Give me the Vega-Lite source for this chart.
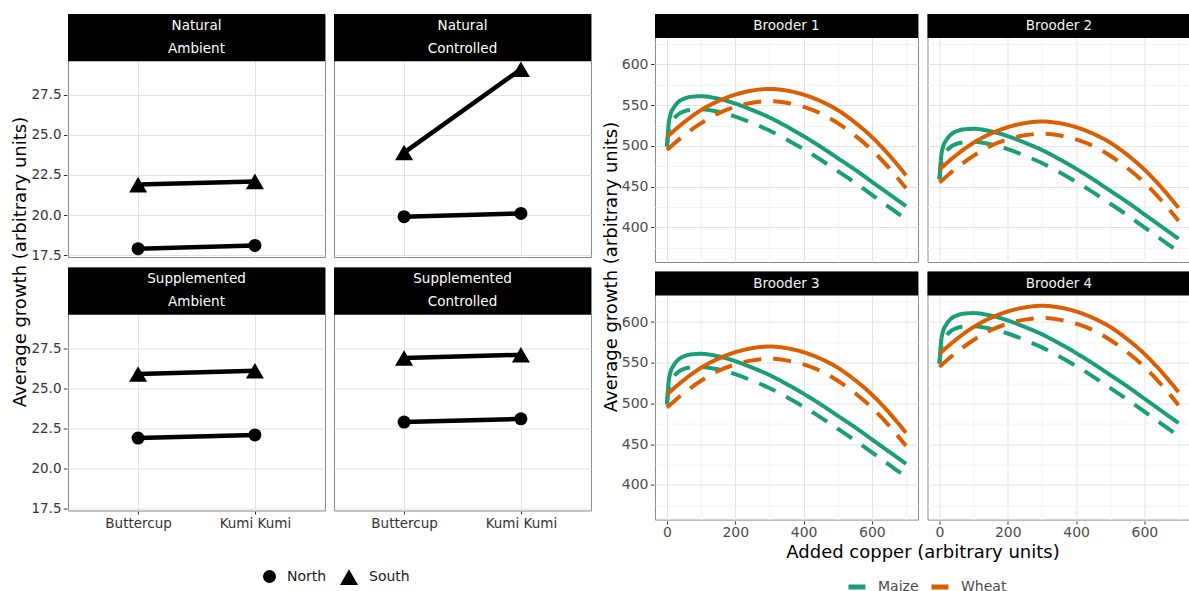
{
 "$schema": "https://vega.github.io/schema/vega-lite/v6.json",
 "padding": {"left": 11, "top": 13, "right": 0, "bottom": 0},
 "config": {
  "font": "DejaVu Sans",
  "view": {"stroke": "#8a8a8a", "strokeWidth": 1},
  "axis": {"domain": false, "tickColor": "#333333", "tickSize": 3.5, "labelPadding": 2.5, "labelFont": "DejaVu Sans", "gridWidth": 1},
  "header": {"titleFont": "DejaVu Sans", "titleFontWeight": "normal", "titleColor": "black", "titleFontSize": 18},
  "legend": {"padding": 0}
 },
 "datasets": {
  "growth": [
   {"nutrition": "Natural", "temperature": "Ambient", "variety": "Buttercup", "location": "North", "growth": 17.9},
   {"nutrition": "Natural", "temperature": "Ambient", "variety": "Kumi Kumi", "location": "North", "growth": 18.1},
   {"nutrition": "Natural", "temperature": "Ambient", "variety": "Buttercup", "location": "South", "growth": 21.9},
   {"nutrition": "Natural", "temperature": "Ambient", "variety": "Kumi Kumi", "location": "South", "growth": 22.1},
   {"nutrition": "Natural", "temperature": "Controlled", "variety": "Buttercup", "location": "North", "growth": 19.9},
   {"nutrition": "Natural", "temperature": "Controlled", "variety": "Kumi Kumi", "location": "North", "growth": 20.1},
   {"nutrition": "Natural", "temperature": "Controlled", "variety": "Buttercup", "location": "South", "growth": 23.9},
   {"nutrition": "Natural", "temperature": "Controlled", "variety": "Kumi Kumi", "location": "South", "growth": 29.1},
   {"nutrition": "Supplemented", "temperature": "Ambient", "variety": "Buttercup", "location": "North", "growth": 21.9},
   {"nutrition": "Supplemented", "temperature": "Ambient", "variety": "Kumi Kumi", "location": "North", "growth": 22.1},
   {"nutrition": "Supplemented", "temperature": "Ambient", "variety": "Buttercup", "location": "South", "growth": 25.9},
   {"nutrition": "Supplemented", "temperature": "Ambient", "variety": "Kumi Kumi", "location": "South", "growth": 26.1},
   {"nutrition": "Supplemented", "temperature": "Controlled", "variety": "Buttercup", "location": "North", "growth": 22.9},
   {"nutrition": "Supplemented", "temperature": "Controlled", "variety": "Kumi Kumi", "location": "North", "growth": 23.1},
   {"nutrition": "Supplemented", "temperature": "Controlled", "variety": "Buttercup", "location": "South", "growth": 26.9},
   {"nutrition": "Supplemented", "temperature": "Controlled", "variety": "Kumi Kumi", "location": "South", "growth": 27.1}
  ],
  "curves": [
   {"brooder":"Brooder 1","crop":"Maize","diet":"Standard","copper":0,"growth":499},
   {"brooder":"Brooder 1","crop":"Maize","diet":"Standard","copper":5,"growth":527},
   {"brooder":"Brooder 1","crop":"Maize","diet":"Standard","copper":10,"growth":538},
   {"brooder":"Brooder 1","crop":"Maize","diet":"Standard","copper":20,"growth":547},
   {"brooder":"Brooder 1","crop":"Maize","diet":"Standard","copper":35,"growth":554.5},
   {"brooder":"Brooder 1","crop":"Maize","diet":"Standard","copper":50,"growth":558},
   {"brooder":"Brooder 1","crop":"Maize","diet":"Standard","copper":75,"growth":560.5},
   {"brooder":"Brooder 1","crop":"Maize","diet":"Standard","copper":100,"growth":561},
   {"brooder":"Brooder 1","crop":"Maize","diet":"Standard","copper":150,"growth":558},
   {"brooder":"Brooder 1","crop":"Maize","diet":"Standard","copper":200,"growth":552},
   {"brooder":"Brooder 1","crop":"Maize","diet":"Standard","copper":250,"growth":544},
   {"brooder":"Brooder 1","crop":"Maize","diet":"Standard","copper":300,"growth":535},
   {"brooder":"Brooder 1","crop":"Maize","diet":"Standard","copper":350,"growth":524},
   {"brooder":"Brooder 1","crop":"Maize","diet":"Standard","copper":400,"growth":512},
   {"brooder":"Brooder 1","crop":"Maize","diet":"Standard","copper":450,"growth":499},
   {"brooder":"Brooder 1","crop":"Maize","diet":"Standard","copper":500,"growth":485},
   {"brooder":"Brooder 1","crop":"Maize","diet":"Standard","copper":550,"growth":471},
   {"brooder":"Brooder 1","crop":"Maize","diet":"Standard","copper":600,"growth":456},
   {"brooder":"Brooder 1","crop":"Maize","diet":"Standard","copper":650,"growth":441},
   {"brooder":"Brooder 1","crop":"Maize","diet":"Standard","copper":700,"growth":426},
   {"brooder":"Brooder 1","crop":"Maize","diet":"Restricted","copper":0,"growth":499},
   {"brooder":"Brooder 1","crop":"Maize","diet":"Restricted","copper":5,"growth":518},
   {"brooder":"Brooder 1","crop":"Maize","diet":"Restricted","copper":10,"growth":525},
   {"brooder":"Brooder 1","crop":"Maize","diet":"Restricted","copper":20,"growth":533},
   {"brooder":"Brooder 1","crop":"Maize","diet":"Restricted","copper":35,"growth":539.5},
   {"brooder":"Brooder 1","crop":"Maize","diet":"Restricted","copper":50,"growth":542.5},
   {"brooder":"Brooder 1","crop":"Maize","diet":"Restricted","copper":75,"growth":544.5},
   {"brooder":"Brooder 1","crop":"Maize","diet":"Restricted","copper":100,"growth":545},
   {"brooder":"Brooder 1","crop":"Maize","diet":"Restricted","copper":150,"growth":542},
   {"brooder":"Brooder 1","crop":"Maize","diet":"Restricted","copper":200,"growth":536},
   {"brooder":"Brooder 1","crop":"Maize","diet":"Restricted","copper":250,"growth":528},
   {"brooder":"Brooder 1","crop":"Maize","diet":"Restricted","copper":300,"growth":519},
   {"brooder":"Brooder 1","crop":"Maize","diet":"Restricted","copper":350,"growth":508},
   {"brooder":"Brooder 1","crop":"Maize","diet":"Restricted","copper":400,"growth":496},
   {"brooder":"Brooder 1","crop":"Maize","diet":"Restricted","copper":450,"growth":483},
   {"brooder":"Brooder 1","crop":"Maize","diet":"Restricted","copper":500,"growth":469},
   {"brooder":"Brooder 1","crop":"Maize","diet":"Restricted","copper":550,"growth":455},
   {"brooder":"Brooder 1","crop":"Maize","diet":"Restricted","copper":600,"growth":440},
   {"brooder":"Brooder 1","crop":"Maize","diet":"Restricted","copper":650,"growth":425},
   {"brooder":"Brooder 1","crop":"Maize","diet":"Restricted","copper":700,"growth":410},
   {"brooder":"Brooder 1","crop":"Wheat","diet":"Standard","copper":0,"growth":511},
   {"brooder":"Brooder 1","crop":"Wheat","diet":"Standard","copper":50,"growth":529},
   {"brooder":"Brooder 1","crop":"Wheat","diet":"Standard","copper":100,"growth":544},
   {"brooder":"Brooder 1","crop":"Wheat","diet":"Standard","copper":150,"growth":555},
   {"brooder":"Brooder 1","crop":"Wheat","diet":"Standard","copper":200,"growth":563},
   {"brooder":"Brooder 1","crop":"Wheat","diet":"Standard","copper":250,"growth":568},
   {"brooder":"Brooder 1","crop":"Wheat","diet":"Standard","copper":300,"growth":570},
   {"brooder":"Brooder 1","crop":"Wheat","diet":"Standard","copper":350,"growth":568},
   {"brooder":"Brooder 1","crop":"Wheat","diet":"Standard","copper":400,"growth":563},
   {"brooder":"Brooder 1","crop":"Wheat","diet":"Standard","copper":450,"growth":555},
   {"brooder":"Brooder 1","crop":"Wheat","diet":"Standard","copper":500,"growth":544},
   {"brooder":"Brooder 1","crop":"Wheat","diet":"Standard","copper":550,"growth":529},
   {"brooder":"Brooder 1","crop":"Wheat","diet":"Standard","copper":600,"growth":511},
   {"brooder":"Brooder 1","crop":"Wheat","diet":"Standard","copper":650,"growth":489},
   {"brooder":"Brooder 1","crop":"Wheat","diet":"Standard","copper":700,"growth":464},
   {"brooder":"Brooder 1","crop":"Wheat","diet":"Restricted","copper":0,"growth":495},
   {"brooder":"Brooder 1","crop":"Wheat","diet":"Restricted","copper":50,"growth":513},
   {"brooder":"Brooder 1","crop":"Wheat","diet":"Restricted","copper":100,"growth":528},
   {"brooder":"Brooder 1","crop":"Wheat","diet":"Restricted","copper":150,"growth":540},
   {"brooder":"Brooder 1","crop":"Wheat","diet":"Restricted","copper":200,"growth":548},
   {"brooder":"Brooder 1","crop":"Wheat","diet":"Restricted","copper":250,"growth":553},
   {"brooder":"Brooder 1","crop":"Wheat","diet":"Restricted","copper":300,"growth":555},
   {"brooder":"Brooder 1","crop":"Wheat","diet":"Restricted","copper":350,"growth":553},
   {"brooder":"Brooder 1","crop":"Wheat","diet":"Restricted","copper":400,"growth":548},
   {"brooder":"Brooder 1","crop":"Wheat","diet":"Restricted","copper":450,"growth":540},
   {"brooder":"Brooder 1","crop":"Wheat","diet":"Restricted","copper":500,"growth":528},
   {"brooder":"Brooder 1","crop":"Wheat","diet":"Restricted","copper":550,"growth":513},
   {"brooder":"Brooder 1","crop":"Wheat","diet":"Restricted","copper":600,"growth":495},
   {"brooder":"Brooder 1","crop":"Wheat","diet":"Restricted","copper":650,"growth":473},
   {"brooder":"Brooder 1","crop":"Wheat","diet":"Restricted","copper":700,"growth":448},
   {"brooder":"Brooder 2","crop":"Maize","diet":"Standard","copper":0,"growth":459},
   {"brooder":"Brooder 2","crop":"Maize","diet":"Standard","copper":5,"growth":487},
   {"brooder":"Brooder 2","crop":"Maize","diet":"Standard","copper":10,"growth":498},
   {"brooder":"Brooder 2","crop":"Maize","diet":"Standard","copper":20,"growth":507},
   {"brooder":"Brooder 2","crop":"Maize","diet":"Standard","copper":35,"growth":514.5},
   {"brooder":"Brooder 2","crop":"Maize","diet":"Standard","copper":50,"growth":518},
   {"brooder":"Brooder 2","crop":"Maize","diet":"Standard","copper":75,"growth":520.5},
   {"brooder":"Brooder 2","crop":"Maize","diet":"Standard","copper":100,"growth":521},
   {"brooder":"Brooder 2","crop":"Maize","diet":"Standard","copper":150,"growth":518},
   {"brooder":"Brooder 2","crop":"Maize","diet":"Standard","copper":200,"growth":512},
   {"brooder":"Brooder 2","crop":"Maize","diet":"Standard","copper":250,"growth":504},
   {"brooder":"Brooder 2","crop":"Maize","diet":"Standard","copper":300,"growth":495},
   {"brooder":"Brooder 2","crop":"Maize","diet":"Standard","copper":350,"growth":484},
   {"brooder":"Brooder 2","crop":"Maize","diet":"Standard","copper":400,"growth":472},
   {"brooder":"Brooder 2","crop":"Maize","diet":"Standard","copper":450,"growth":459},
   {"brooder":"Brooder 2","crop":"Maize","diet":"Standard","copper":500,"growth":445},
   {"brooder":"Brooder 2","crop":"Maize","diet":"Standard","copper":550,"growth":431},
   {"brooder":"Brooder 2","crop":"Maize","diet":"Standard","copper":600,"growth":416},
   {"brooder":"Brooder 2","crop":"Maize","diet":"Standard","copper":650,"growth":401},
   {"brooder":"Brooder 2","crop":"Maize","diet":"Standard","copper":700,"growth":386},
   {"brooder":"Brooder 2","crop":"Maize","diet":"Restricted","copper":0,"growth":459},
   {"brooder":"Brooder 2","crop":"Maize","diet":"Restricted","copper":5,"growth":478},
   {"brooder":"Brooder 2","crop":"Maize","diet":"Restricted","copper":10,"growth":485},
   {"brooder":"Brooder 2","crop":"Maize","diet":"Restricted","copper":20,"growth":493},
   {"brooder":"Brooder 2","crop":"Maize","diet":"Restricted","copper":35,"growth":499.5},
   {"brooder":"Brooder 2","crop":"Maize","diet":"Restricted","copper":50,"growth":502.5},
   {"brooder":"Brooder 2","crop":"Maize","diet":"Restricted","copper":75,"growth":504.5},
   {"brooder":"Brooder 2","crop":"Maize","diet":"Restricted","copper":100,"growth":505},
   {"brooder":"Brooder 2","crop":"Maize","diet":"Restricted","copper":150,"growth":502},
   {"brooder":"Brooder 2","crop":"Maize","diet":"Restricted","copper":200,"growth":496},
   {"brooder":"Brooder 2","crop":"Maize","diet":"Restricted","copper":250,"growth":488},
   {"brooder":"Brooder 2","crop":"Maize","diet":"Restricted","copper":300,"growth":479},
   {"brooder":"Brooder 2","crop":"Maize","diet":"Restricted","copper":350,"growth":468},
   {"brooder":"Brooder 2","crop":"Maize","diet":"Restricted","copper":400,"growth":456},
   {"brooder":"Brooder 2","crop":"Maize","diet":"Restricted","copper":450,"growth":443},
   {"brooder":"Brooder 2","crop":"Maize","diet":"Restricted","copper":500,"growth":429},
   {"brooder":"Brooder 2","crop":"Maize","diet":"Restricted","copper":550,"growth":415},
   {"brooder":"Brooder 2","crop":"Maize","diet":"Restricted","copper":600,"growth":400},
   {"brooder":"Brooder 2","crop":"Maize","diet":"Restricted","copper":650,"growth":385},
   {"brooder":"Brooder 2","crop":"Maize","diet":"Restricted","copper":700,"growth":370},
   {"brooder":"Brooder 2","crop":"Wheat","diet":"Standard","copper":0,"growth":471},
   {"brooder":"Brooder 2","crop":"Wheat","diet":"Standard","copper":50,"growth":489},
   {"brooder":"Brooder 2","crop":"Wheat","diet":"Standard","copper":100,"growth":504},
   {"brooder":"Brooder 2","crop":"Wheat","diet":"Standard","copper":150,"growth":515},
   {"brooder":"Brooder 2","crop":"Wheat","diet":"Standard","copper":200,"growth":523},
   {"brooder":"Brooder 2","crop":"Wheat","diet":"Standard","copper":250,"growth":528},
   {"brooder":"Brooder 2","crop":"Wheat","diet":"Standard","copper":300,"growth":530},
   {"brooder":"Brooder 2","crop":"Wheat","diet":"Standard","copper":350,"growth":528},
   {"brooder":"Brooder 2","crop":"Wheat","diet":"Standard","copper":400,"growth":523},
   {"brooder":"Brooder 2","crop":"Wheat","diet":"Standard","copper":450,"growth":515},
   {"brooder":"Brooder 2","crop":"Wheat","diet":"Standard","copper":500,"growth":504},
   {"brooder":"Brooder 2","crop":"Wheat","diet":"Standard","copper":550,"growth":489},
   {"brooder":"Brooder 2","crop":"Wheat","diet":"Standard","copper":600,"growth":471},
   {"brooder":"Brooder 2","crop":"Wheat","diet":"Standard","copper":650,"growth":449},
   {"brooder":"Brooder 2","crop":"Wheat","diet":"Standard","copper":700,"growth":424},
   {"brooder":"Brooder 2","crop":"Wheat","diet":"Restricted","copper":0,"growth":455},
   {"brooder":"Brooder 2","crop":"Wheat","diet":"Restricted","copper":50,"growth":473},
   {"brooder":"Brooder 2","crop":"Wheat","diet":"Restricted","copper":100,"growth":488},
   {"brooder":"Brooder 2","crop":"Wheat","diet":"Restricted","copper":150,"growth":500},
   {"brooder":"Brooder 2","crop":"Wheat","diet":"Restricted","copper":200,"growth":508},
   {"brooder":"Brooder 2","crop":"Wheat","diet":"Restricted","copper":250,"growth":513},
   {"brooder":"Brooder 2","crop":"Wheat","diet":"Restricted","copper":300,"growth":515},
   {"brooder":"Brooder 2","crop":"Wheat","diet":"Restricted","copper":350,"growth":513},
   {"brooder":"Brooder 2","crop":"Wheat","diet":"Restricted","copper":400,"growth":508},
   {"brooder":"Brooder 2","crop":"Wheat","diet":"Restricted","copper":450,"growth":500},
   {"brooder":"Brooder 2","crop":"Wheat","diet":"Restricted","copper":500,"growth":488},
   {"brooder":"Brooder 2","crop":"Wheat","diet":"Restricted","copper":550,"growth":473},
   {"brooder":"Brooder 2","crop":"Wheat","diet":"Restricted","copper":600,"growth":455},
   {"brooder":"Brooder 2","crop":"Wheat","diet":"Restricted","copper":650,"growth":433},
   {"brooder":"Brooder 2","crop":"Wheat","diet":"Restricted","copper":700,"growth":408},
   {"brooder":"Brooder 3","crop":"Maize","diet":"Standard","copper":0,"growth":499},
   {"brooder":"Brooder 3","crop":"Maize","diet":"Standard","copper":5,"growth":527},
   {"brooder":"Brooder 3","crop":"Maize","diet":"Standard","copper":10,"growth":538},
   {"brooder":"Brooder 3","crop":"Maize","diet":"Standard","copper":20,"growth":547},
   {"brooder":"Brooder 3","crop":"Maize","diet":"Standard","copper":35,"growth":554.5},
   {"brooder":"Brooder 3","crop":"Maize","diet":"Standard","copper":50,"growth":558},
   {"brooder":"Brooder 3","crop":"Maize","diet":"Standard","copper":75,"growth":560.5},
   {"brooder":"Brooder 3","crop":"Maize","diet":"Standard","copper":100,"growth":561},
   {"brooder":"Brooder 3","crop":"Maize","diet":"Standard","copper":150,"growth":558},
   {"brooder":"Brooder 3","crop":"Maize","diet":"Standard","copper":200,"growth":552},
   {"brooder":"Brooder 3","crop":"Maize","diet":"Standard","copper":250,"growth":544},
   {"brooder":"Brooder 3","crop":"Maize","diet":"Standard","copper":300,"growth":535},
   {"brooder":"Brooder 3","crop":"Maize","diet":"Standard","copper":350,"growth":524},
   {"brooder":"Brooder 3","crop":"Maize","diet":"Standard","copper":400,"growth":512},
   {"brooder":"Brooder 3","crop":"Maize","diet":"Standard","copper":450,"growth":499},
   {"brooder":"Brooder 3","crop":"Maize","diet":"Standard","copper":500,"growth":485},
   {"brooder":"Brooder 3","crop":"Maize","diet":"Standard","copper":550,"growth":471},
   {"brooder":"Brooder 3","crop":"Maize","diet":"Standard","copper":600,"growth":456},
   {"brooder":"Brooder 3","crop":"Maize","diet":"Standard","copper":650,"growth":441},
   {"brooder":"Brooder 3","crop":"Maize","diet":"Standard","copper":700,"growth":426},
   {"brooder":"Brooder 3","crop":"Maize","diet":"Restricted","copper":0,"growth":499},
   {"brooder":"Brooder 3","crop":"Maize","diet":"Restricted","copper":5,"growth":518},
   {"brooder":"Brooder 3","crop":"Maize","diet":"Restricted","copper":10,"growth":525},
   {"brooder":"Brooder 3","crop":"Maize","diet":"Restricted","copper":20,"growth":533},
   {"brooder":"Brooder 3","crop":"Maize","diet":"Restricted","copper":35,"growth":539.5},
   {"brooder":"Brooder 3","crop":"Maize","diet":"Restricted","copper":50,"growth":542.5},
   {"brooder":"Brooder 3","crop":"Maize","diet":"Restricted","copper":75,"growth":544.5},
   {"brooder":"Brooder 3","crop":"Maize","diet":"Restricted","copper":100,"growth":545},
   {"brooder":"Brooder 3","crop":"Maize","diet":"Restricted","copper":150,"growth":542},
   {"brooder":"Brooder 3","crop":"Maize","diet":"Restricted","copper":200,"growth":536},
   {"brooder":"Brooder 3","crop":"Maize","diet":"Restricted","copper":250,"growth":528},
   {"brooder":"Brooder 3","crop":"Maize","diet":"Restricted","copper":300,"growth":519},
   {"brooder":"Brooder 3","crop":"Maize","diet":"Restricted","copper":350,"growth":508},
   {"brooder":"Brooder 3","crop":"Maize","diet":"Restricted","copper":400,"growth":496},
   {"brooder":"Brooder 3","crop":"Maize","diet":"Restricted","copper":450,"growth":483},
   {"brooder":"Brooder 3","crop":"Maize","diet":"Restricted","copper":500,"growth":469},
   {"brooder":"Brooder 3","crop":"Maize","diet":"Restricted","copper":550,"growth":455},
   {"brooder":"Brooder 3","crop":"Maize","diet":"Restricted","copper":600,"growth":440},
   {"brooder":"Brooder 3","crop":"Maize","diet":"Restricted","copper":650,"growth":425},
   {"brooder":"Brooder 3","crop":"Maize","diet":"Restricted","copper":700,"growth":410},
   {"brooder":"Brooder 3","crop":"Wheat","diet":"Standard","copper":0,"growth":511},
   {"brooder":"Brooder 3","crop":"Wheat","diet":"Standard","copper":50,"growth":529},
   {"brooder":"Brooder 3","crop":"Wheat","diet":"Standard","copper":100,"growth":544},
   {"brooder":"Brooder 3","crop":"Wheat","diet":"Standard","copper":150,"growth":555},
   {"brooder":"Brooder 3","crop":"Wheat","diet":"Standard","copper":200,"growth":563},
   {"brooder":"Brooder 3","crop":"Wheat","diet":"Standard","copper":250,"growth":568},
   {"brooder":"Brooder 3","crop":"Wheat","diet":"Standard","copper":300,"growth":570},
   {"brooder":"Brooder 3","crop":"Wheat","diet":"Standard","copper":350,"growth":568},
   {"brooder":"Brooder 3","crop":"Wheat","diet":"Standard","copper":400,"growth":563},
   {"brooder":"Brooder 3","crop":"Wheat","diet":"Standard","copper":450,"growth":555},
   {"brooder":"Brooder 3","crop":"Wheat","diet":"Standard","copper":500,"growth":544},
   {"brooder":"Brooder 3","crop":"Wheat","diet":"Standard","copper":550,"growth":529},
   {"brooder":"Brooder 3","crop":"Wheat","diet":"Standard","copper":600,"growth":511},
   {"brooder":"Brooder 3","crop":"Wheat","diet":"Standard","copper":650,"growth":489},
   {"brooder":"Brooder 3","crop":"Wheat","diet":"Standard","copper":700,"growth":464},
   {"brooder":"Brooder 3","crop":"Wheat","diet":"Restricted","copper":0,"growth":495},
   {"brooder":"Brooder 3","crop":"Wheat","diet":"Restricted","copper":50,"growth":513},
   {"brooder":"Brooder 3","crop":"Wheat","diet":"Restricted","copper":100,"growth":528},
   {"brooder":"Brooder 3","crop":"Wheat","diet":"Restricted","copper":150,"growth":540},
   {"brooder":"Brooder 3","crop":"Wheat","diet":"Restricted","copper":200,"growth":548},
   {"brooder":"Brooder 3","crop":"Wheat","diet":"Restricted","copper":250,"growth":553},
   {"brooder":"Brooder 3","crop":"Wheat","diet":"Restricted","copper":300,"growth":555},
   {"brooder":"Brooder 3","crop":"Wheat","diet":"Restricted","copper":350,"growth":553},
   {"brooder":"Brooder 3","crop":"Wheat","diet":"Restricted","copper":400,"growth":548},
   {"brooder":"Brooder 3","crop":"Wheat","diet":"Restricted","copper":450,"growth":540},
   {"brooder":"Brooder 3","crop":"Wheat","diet":"Restricted","copper":500,"growth":528},
   {"brooder":"Brooder 3","crop":"Wheat","diet":"Restricted","copper":550,"growth":513},
   {"brooder":"Brooder 3","crop":"Wheat","diet":"Restricted","copper":600,"growth":495},
   {"brooder":"Brooder 3","crop":"Wheat","diet":"Restricted","copper":650,"growth":473},
   {"brooder":"Brooder 3","crop":"Wheat","diet":"Restricted","copper":700,"growth":448},
   {"brooder":"Brooder 4","crop":"Maize","diet":"Standard","copper":0,"growth":549},
   {"brooder":"Brooder 4","crop":"Maize","diet":"Standard","copper":5,"growth":577},
   {"brooder":"Brooder 4","crop":"Maize","diet":"Standard","copper":10,"growth":588},
   {"brooder":"Brooder 4","crop":"Maize","diet":"Standard","copper":20,"growth":597},
   {"brooder":"Brooder 4","crop":"Maize","diet":"Standard","copper":35,"growth":604.5},
   {"brooder":"Brooder 4","crop":"Maize","diet":"Standard","copper":50,"growth":608},
   {"brooder":"Brooder 4","crop":"Maize","diet":"Standard","copper":75,"growth":610.5},
   {"brooder":"Brooder 4","crop":"Maize","diet":"Standard","copper":100,"growth":611},
   {"brooder":"Brooder 4","crop":"Maize","diet":"Standard","copper":150,"growth":608},
   {"brooder":"Brooder 4","crop":"Maize","diet":"Standard","copper":200,"growth":602},
   {"brooder":"Brooder 4","crop":"Maize","diet":"Standard","copper":250,"growth":594},
   {"brooder":"Brooder 4","crop":"Maize","diet":"Standard","copper":300,"growth":585},
   {"brooder":"Brooder 4","crop":"Maize","diet":"Standard","copper":350,"growth":574},
   {"brooder":"Brooder 4","crop":"Maize","diet":"Standard","copper":400,"growth":562},
   {"brooder":"Brooder 4","crop":"Maize","diet":"Standard","copper":450,"growth":549},
   {"brooder":"Brooder 4","crop":"Maize","diet":"Standard","copper":500,"growth":535},
   {"brooder":"Brooder 4","crop":"Maize","diet":"Standard","copper":550,"growth":521},
   {"brooder":"Brooder 4","crop":"Maize","diet":"Standard","copper":600,"growth":506},
   {"brooder":"Brooder 4","crop":"Maize","diet":"Standard","copper":650,"growth":491},
   {"brooder":"Brooder 4","crop":"Maize","diet":"Standard","copper":700,"growth":476},
   {"brooder":"Brooder 4","crop":"Maize","diet":"Restricted","copper":0,"growth":549},
   {"brooder":"Brooder 4","crop":"Maize","diet":"Restricted","copper":5,"growth":568},
   {"brooder":"Brooder 4","crop":"Maize","diet":"Restricted","copper":10,"growth":575},
   {"brooder":"Brooder 4","crop":"Maize","diet":"Restricted","copper":20,"growth":583},
   {"brooder":"Brooder 4","crop":"Maize","diet":"Restricted","copper":35,"growth":589.5},
   {"brooder":"Brooder 4","crop":"Maize","diet":"Restricted","copper":50,"growth":592.5},
   {"brooder":"Brooder 4","crop":"Maize","diet":"Restricted","copper":75,"growth":594.5},
   {"brooder":"Brooder 4","crop":"Maize","diet":"Restricted","copper":100,"growth":595},
   {"brooder":"Brooder 4","crop":"Maize","diet":"Restricted","copper":150,"growth":592},
   {"brooder":"Brooder 4","crop":"Maize","diet":"Restricted","copper":200,"growth":586},
   {"brooder":"Brooder 4","crop":"Maize","diet":"Restricted","copper":250,"growth":578},
   {"brooder":"Brooder 4","crop":"Maize","diet":"Restricted","copper":300,"growth":569},
   {"brooder":"Brooder 4","crop":"Maize","diet":"Restricted","copper":350,"growth":558},
   {"brooder":"Brooder 4","crop":"Maize","diet":"Restricted","copper":400,"growth":546},
   {"brooder":"Brooder 4","crop":"Maize","diet":"Restricted","copper":450,"growth":533},
   {"brooder":"Brooder 4","crop":"Maize","diet":"Restricted","copper":500,"growth":519},
   {"brooder":"Brooder 4","crop":"Maize","diet":"Restricted","copper":550,"growth":505},
   {"brooder":"Brooder 4","crop":"Maize","diet":"Restricted","copper":600,"growth":490},
   {"brooder":"Brooder 4","crop":"Maize","diet":"Restricted","copper":650,"growth":475},
   {"brooder":"Brooder 4","crop":"Maize","diet":"Restricted","copper":700,"growth":460},
   {"brooder":"Brooder 4","crop":"Wheat","diet":"Standard","copper":0,"growth":561},
   {"brooder":"Brooder 4","crop":"Wheat","diet":"Standard","copper":50,"growth":579},
   {"brooder":"Brooder 4","crop":"Wheat","diet":"Standard","copper":100,"growth":594},
   {"brooder":"Brooder 4","crop":"Wheat","diet":"Standard","copper":150,"growth":605},
   {"brooder":"Brooder 4","crop":"Wheat","diet":"Standard","copper":200,"growth":613},
   {"brooder":"Brooder 4","crop":"Wheat","diet":"Standard","copper":250,"growth":618},
   {"brooder":"Brooder 4","crop":"Wheat","diet":"Standard","copper":300,"growth":620},
   {"brooder":"Brooder 4","crop":"Wheat","diet":"Standard","copper":350,"growth":618},
   {"brooder":"Brooder 4","crop":"Wheat","diet":"Standard","copper":400,"growth":613},
   {"brooder":"Brooder 4","crop":"Wheat","diet":"Standard","copper":450,"growth":605},
   {"brooder":"Brooder 4","crop":"Wheat","diet":"Standard","copper":500,"growth":594},
   {"brooder":"Brooder 4","crop":"Wheat","diet":"Standard","copper":550,"growth":579},
   {"brooder":"Brooder 4","crop":"Wheat","diet":"Standard","copper":600,"growth":561},
   {"brooder":"Brooder 4","crop":"Wheat","diet":"Standard","copper":650,"growth":539},
   {"brooder":"Brooder 4","crop":"Wheat","diet":"Standard","copper":700,"growth":514},
   {"brooder":"Brooder 4","crop":"Wheat","diet":"Restricted","copper":0,"growth":545},
   {"brooder":"Brooder 4","crop":"Wheat","diet":"Restricted","copper":50,"growth":563},
   {"brooder":"Brooder 4","crop":"Wheat","diet":"Restricted","copper":100,"growth":578},
   {"brooder":"Brooder 4","crop":"Wheat","diet":"Restricted","copper":150,"growth":590},
   {"brooder":"Brooder 4","crop":"Wheat","diet":"Restricted","copper":200,"growth":598},
   {"brooder":"Brooder 4","crop":"Wheat","diet":"Restricted","copper":250,"growth":603},
   {"brooder":"Brooder 4","crop":"Wheat","diet":"Restricted","copper":300,"growth":605},
   {"brooder":"Brooder 4","crop":"Wheat","diet":"Restricted","copper":350,"growth":603},
   {"brooder":"Brooder 4","crop":"Wheat","diet":"Restricted","copper":400,"growth":598},
   {"brooder":"Brooder 4","crop":"Wheat","diet":"Restricted","copper":450,"growth":590},
   {"brooder":"Brooder 4","crop":"Wheat","diet":"Restricted","copper":500,"growth":578},
   {"brooder":"Brooder 4","crop":"Wheat","diet":"Restricted","copper":550,"growth":563},
   {"brooder":"Brooder 4","crop":"Wheat","diet":"Restricted","copper":600,"growth":545},
   {"brooder":"Brooder 4","crop":"Wheat","diet":"Restricted","copper":650,"growth":523},
   {"brooder":"Brooder 4","crop":"Wheat","diet":"Restricted","copper":700,"growth":498}
  ]
 },
 "spacing": 10,
 "resolve": {
  "scale": {"x": "independent", "y": "independent", "color": "independent", "shape": "independent", "size": "independent", "strokeDash": "independent"},
  "axis": {"x": "independent", "y": "independent"},
  "legend": {"color": "independent", "shape": "independent", "size": "independent", "strokeDash": "independent"}
 },
 "hconcat": [
  {
   "data": {"name": "growth"},
   "transform": [{"calculate": "datum.nutrition + '\\n' + datum.temperature", "as": "strip"}],
   "facet": {
    "row": {"field": "nutrition", "type": "nominal", "sort": ["Natural", "Supplemented"],
            "header": {"title": "Average growth (arbitrary units)", "labels": false, "titlePadding": -10}},
    "column": {"field": "temperature", "type": "nominal", "sort": ["Ambient", "Controlled"],
               "header": {"title": null, "labels": false}}
   },
   "spacing": {"row": 7.5, "column": 7},
   "spec": {
    "width": 257,
    "height": 243,
    "layer": [
     {
      "mark": {"type": "line", "color": "black", "strokeWidth": 4.5},
      "encoding": {
       "x": {"field": "variety", "type": "nominal", "sort": ["Buttercup", "Kumi Kumi"],
             "scale": {"type": "point", "padding": 0.6},
             "axis": {"title": null, "grid": true, "gridColor": "#e3e3e3", "labelAngle": 0, "labelFontSize": 13.5, "labelColor": "#333333", "labelBaseline": "middle", "labelPadding": 9.3, "tickSize": 3}},
       "y": {"field": "growth", "type": "quantitative",
             "scale": {"domain": [17.38, 32.55], "nice": false, "zero": false},
             "axis": {"title": null, "values": [17.5, 18.75, 20, 21.25, 22.5, 23.75, 25, 26.25, 27.5, 28.75],
                      "labelExpr": "datum.value % 2.5 === 0 ? format(datum.value, '.1f') : ''",
                      "labelFontSize": 13.5, "labelColor": "#333333",
                      "tickColor": {"condition": {"test": "datum.value % 2.5 !== 0", "value": "transparent"}, "value": "#333333"},
                      "gridColor": {"condition": {"test": "datum.value % 2.5 !== 0", "value": "#f3f3f3"}, "value": "#e3e3e3"}}},
       "detail": {"field": "location", "type": "nominal"}
      }
     },
     {
      "mark": {"type": "point", "filled": true, "color": "black", "opacity": 1},
      "encoding": {
       "x": {"field": "variety", "type": "nominal", "sort": ["Buttercup", "Kumi Kumi"],
             "scale": {"type": "point", "padding": 0.6},
             "axis": {"title": null, "grid": true, "gridColor": "#e3e3e3", "labelAngle": 0, "labelFontSize": 13.5, "labelColor": "#333333", "labelBaseline": "middle", "labelPadding": 9.3, "tickSize": 3}},
       "y": {"field": "growth", "type": "quantitative",
             "scale": {"domain": [17.38, 32.55], "nice": false, "zero": false},
             "axis": {"title": null, "values": [17.5, 18.75, 20, 21.25, 22.5, 23.75, 25, 26.25, 27.5, 28.75],
                      "labelExpr": "datum.value % 2.5 === 0 ? format(datum.value, '.1f') : ''",
                      "labelFontSize": 13.5, "labelColor": "#333333",
                      "tickColor": {"condition": {"test": "datum.value % 2.5 !== 0", "value": "transparent"}, "value": "#333333"},
                      "gridColor": {"condition": {"test": "datum.value % 2.5 !== 0", "value": "#f3f3f3"}, "value": "#e3e3e3"}}},
       "shape": {"field": "location", "type": "nominal",
                 "scale": {"domain": ["North", "South"], "range": ["circle", "triangle-up"]},
                 "legend": {"title": null, "orient": "none", "direction": "horizontal", "legendX": 194, "legendY": 553, "labelFontSize": 14, "labelColor": "#1a1a1a", "symbolFillColor": "black", "symbolStrokeColor": "black", "columnPadding": 10, "labelOffset": 10}},
       "size": {"field": "location", "type": "nominal",
                "scale": {"domain": ["North", "South"], "range": [169, 324]},
                "legend": {"title": null, "orient": "none", "direction": "horizontal", "legendX": 194, "legendY": 553, "labelFontSize": 14, "labelColor": "#1a1a1a", "symbolFillColor": "black", "symbolStrokeColor": "black", "columnPadding": 10, "labelOffset": 10}}
      }
     },
     {
      "transform": [{"aggregate": [{"op": "count", "as": "n"}], "groupby": ["nutrition", "temperature", "strip"]}],
      "mark": {"type": "rect", "color": "black"},
      "encoding": {
       "y": {"datum": 29.6, "type": "quantitative"},
       "y2": {"datum": 32.55}
      }
     },
     {
      "transform": [{"aggregate": [{"op": "count", "as": "n"}], "groupby": ["nutrition", "temperature", "strip"]}],
      "mark": {"type": "text", "color": "white", "fontSize": 13.5, "lineHeight": 23.4, "lineBreak": "\n", "baseline": "middle", "align": "center"},
      "encoding": {
       "y": {"datum": 31.83, "type": "quantitative"},
       "text": {"field": "strip", "type": "nominal"}
      }
     }
    ]
   }
  },
  {
   "data": {"name": "curves"},
   "transform": [
    {"calculate": "datum.brooder === 'Brooder 1' || datum.brooder === 'Brooder 2' ? 'top' : 'bottom'", "as": "brow"},
    {"calculate": "datum.brooder === 'Brooder 1' || datum.brooder === 'Brooder 3' ? 'left' : 'right'", "as": "bcol"}
   ],
   "facet": {
    "row": {"field": "brow", "type": "nominal", "sort": ["top", "bottom"],
            "header": {"title": "Average growth (arbitrary units)", "labels": false, "titlePadding": -10}},
    "column": {"field": "bcol", "type": "nominal", "sort": ["left", "right"],
               "header": {"title": "Added copper (arbitrary units)", "titleOrient": "bottom", "labels": false, "titlePadding": -6}}
   },
   "spacing": {"row": 7.6, "column": 7.5},
   "spec": {
    "width": 263,
    "height": 248,
    "layer": [
     {
      "mark": {"type": "line", "strokeWidth": 4, "interpolate": "monotone", "strokeCap": "butt"},
      "encoding": {
       "x": {"field": "copper", "type": "quantitative",
             "scale": {"domain": [-35, 735], "nice": false, "zero": false},
             "axis": {"title": null, "values": [0, 100, 200, 300, 400, 500, 600, 700],
                      "labelExpr": "datum.value % 200 === 0 ? format(datum.value, 'd') : ''",
                      "labelFontSize": 14, "labelColor": "#4d4d4d", "labelBaseline": "middle", "labelPadding": 8.3, "tickSize": 3,
                      "tickColor": {"condition": {"test": "datum.value % 200 !== 0", "value": "transparent"}, "value": "#333333"},
                      "gridColor": {"condition": {"test": "datum.value % 200 !== 0", "value": "#f3f3f3"}, "value": "#e3e3e3"}}},
       "y": {"field": "growth", "type": "quantitative",
             "scale": {"domain": [357.5, 661.96], "nice": false, "zero": false},
             "axis": {"title": null, "values": [375, 400, 425, 450, 475, 500, 525, 550, 575, 600, 625],
                      "labelExpr": "datum.value % 50 === 0 ? format(datum.value, 'd') : ''",
                      "labelFontSize": 14, "labelColor": "#4d4d4d",
                      "tickColor": {"condition": {"test": "datum.value % 50 !== 0", "value": "transparent"}, "value": "#333333"},
                      "gridColor": {"condition": {"test": "datum.value % 50 !== 0", "value": "#f3f3f3"}, "value": "#e3e3e3"}}},
       "color": {"field": "crop", "type": "nominal",
                 "scale": {"domain": ["Maize", "Wheat"], "range": ["#1b9e77", "#d95f02"]},
                 "legend": {"title": null, "orient": "none", "direction": "horizontal", "legendX": 191, "legendY": 562, "symbolType": "stroke", "symbolStrokeWidth": 5, "symbolSize": 289, "symbolDash": [1, 0], "labelFontSize": 14, "labelColor": "#4d4d4d", "columnPadding": 2, "labelOffset": 10}},
       "strokeDash": {"field": "diet", "type": "nominal",
                      "scale": {"domain": ["Standard", "Restricted"], "range": [[1, 0], [18, 12]]},
                      "legend": null}
      }
     },
     {
      "transform": [{"aggregate": [{"op": "count", "as": "n"}], "groupby": ["brooder", "brow", "bcol"]}],
      "mark": {"type": "rect", "color": "black"},
      "encoding": {
       "y": {"datum": 632.5, "type": "quantitative",
             "axis": {"title": null, "values": [375, 400, 425, 450, 475, 500, 525, 550, 575, 600, 625],
                      "labelExpr": "datum.value % 50 === 0 ? format(datum.value, 'd') : ''",
                      "labelFontSize": 14, "labelColor": "#4d4d4d",
                      "tickColor": {"condition": {"test": "datum.value % 50 !== 0", "value": "transparent"}, "value": "#333333"},
                      "gridColor": {"condition": {"test": "datum.value % 50 !== 0", "value": "#f3f3f3"}, "value": "#e3e3e3"}}},
       "y2": {"datum": 661.96}
      }
     },
     {
      "transform": [{"aggregate": [{"op": "count", "as": "n"}], "groupby": ["brooder", "brow", "bcol"]}],
      "mark": {"type": "text", "color": "#f2f2f2", "fontSize": 13.5, "baseline": "middle", "align": "center"},
      "encoding": {
       "y": {"datum": 647.2, "type": "quantitative",
             "axis": {"title": null, "values": [375, 400, 425, 450, 475, 500, 525, 550, 575, 600, 625],
                      "labelExpr": "datum.value % 50 === 0 ? format(datum.value, 'd') : ''",
                      "labelFontSize": 14, "labelColor": "#4d4d4d",
                      "tickColor": {"condition": {"test": "datum.value % 50 !== 0", "value": "transparent"}, "value": "#333333"},
                      "gridColor": {"condition": {"test": "datum.value % 50 !== 0", "value": "#f3f3f3"}, "value": "#e3e3e3"}}},
       "text": {"field": "brooder", "type": "nominal"}
      }
     }
    ]
   }
  }
 ]
}
